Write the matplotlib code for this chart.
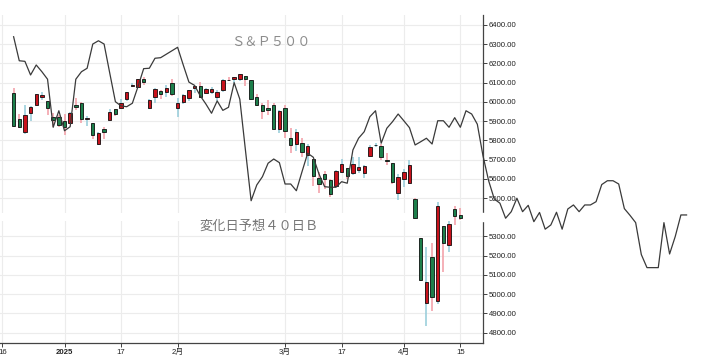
import numpy as np
import matplotlib
matplotlib.use('Agg')
import matplotlib.pyplot as plt
from matplotlib.patches import Rectangle

plt.rcParams['font.family'] = ['Liberation Sans', 'Noto Sans CJK JP', 'DejaVu Sans']

# ---------------- data ----------------
dates = ['12/18', '12/19', '12/20', '12/23', '12/24', '12/26', '12/27', '12/30', '12/31',
         '1/2', '1/3', '1/6', '1/7', '1/8', '1/10', '1/13', '1/14', '1/15', '1/16', '1/17',
         '1/21', '1/22', '1/23', '1/24', '1/27', '1/28', '1/29', '1/30', '1/31',
         '2/3', '2/4', '2/5', '2/6', '2/7', '2/10', '2/11', '2/12', '2/13', '2/14',
         '2/18', '2/19', '2/20', '2/21', '2/24', '2/25', '2/26', '2/27', '2/28',
         '3/3', '3/4', '3/5', '3/6', '3/7', '3/10', '3/11', '3/12', '3/13', '3/14',
         '3/17', '3/18', '3/19', '3/20', '3/21', '3/24', '3/25', '3/26', '3/27', '3/28',
         '3/31', '4/1', '4/2', '4/3', '4/4', '4/7', '4/8', '4/9', '4/10', '4/11', '4/14', '4/15']

opens = [6047.65, 5912.71, 5842.00, 5940.25, 5984.74, 6024.97, 6006.17, 5920.67, 5919.74,
         5903.26, 5891.07, 5982.81, 5993.26, 5910.66, 5890.66, 5782.00, 5859.00, 5905.00, 5961.00, 5969.00,
         6014.12, 6081.39, 6076.32, 6121.43, 5969.04, 6026.97, 6057.70, 6050.75, 6096.79,
         5969.65, 5998.14, 6020.45, 6072.22, 6083.13, 6046.40, 6049.32, 6025.08, 6060.59, 6115.52,
         6121.60, 6117.52, 6134.50, 6114.10, 6026.69, 5982.73, 5970.87, 5981.88, 5856.74,
         5968.33, 5811.98, 5781.43, 5785.87, 5726.01, 5705.37, 5603.65, 5624.84, 5594.45, 5563.85,
         5635.60, 5654.53, 5632.37, 5646.92, 5630.73, 5718.08, 5775.86, 5771.66, 5695.64, 5679.99,
         5527.91, 5597.53, 5580.76, 5492.74, 5292.14, 4953.79, 5193.57, 4965.28, 5353.15, 5255.56, 5441.96, 5411.99]

highs = [6070.67, 5935.52, 5982.06, 5978.25, 6040.10, 6049.75, 6006.17, 5940.79, 5929.74,
         5935.09, 5949.34, 6021.04, 6000.68, 5927.89, 5890.66, 5843.71, 5871.92, 5960.61, 5964.69, 6014.96,
         6051.51, 6100.81, 6118.73, 6128.18, 6017.17, 6074.54, 6062.83, 6086.64, 6120.91,
         6022.13, 6042.48, 6062.86, 6084.03, 6101.28, 6073.38, 6076.28, 6063.09, 6116.91, 6127.47,
         6129.63, 6147.43, 6134.50, 6114.82, 6043.65, 5992.65, 6009.82, 5993.69, 5959.40,
         5986.09, 5865.08, 5860.59, 5812.08, 5783.01, 5705.37, 5636.30, 5642.19, 5597.78, 5645.27,
         5703.52, 5654.53, 5715.33, 5711.15, 5670.84, 5775.14, 5786.95, 5783.62, 5732.28, 5679.99,
         5627.56, 5650.57, 5695.31, 5499.53, 5292.14, 5246.57, 5267.47, 5481.34, 5353.15, 5381.46, 5459.46, 5450.41]

lows = [5867.79, 5866.07, 5832.30, 5902.57, 5981.44, 6007.37, 5932.95, 5869.16, 5868.86,
        5829.53, 5888.66, 5960.01, 5890.68, 5874.78, 5809.44, 5773.31, 5805.58, 5905.00, 5927.95, 5969.00,
        6006.88, 6076.13, 6074.67, 6088.74, 5962.92, 5994.63, 6012.96, 6027.46, 6030.93,
        5923.93, 5990.87, 6007.06, 6046.83, 6019.96, 6044.84, 6042.34, 6003.00, 6051.21, 6107.62,
        6099.51, 6111.15, 6084.59, 6008.56, 5977.83, 5908.49, 5932.69, 5858.78, 5837.66,
        5810.91, 5732.59, 5742.35, 5711.64, 5666.29, 5564.02, 5528.41, 5546.09, 5504.65, 5563.85,
        5631.12, 5597.76, 5622.20, 5632.33, 5603.10, 5718.08, 5764.44, 5695.47, 5670.94, 5572.42,
        5488.73, 5558.52, 5571.48, 5390.83, 5069.90, 4835.04, 4910.42, 4948.43, 5115.27, 5220.77, 5358.02, 5386.44]

closes = [5872.16, 5867.08, 5930.85, 5974.07, 6040.04, 6037.59, 5970.84, 5906.94, 5881.63,
          5868.55, 5942.47, 5975.38, 5909.03, 5918.25, 5827.04, 5836.22, 5842.91, 5949.91, 5937.34, 5996.66,
          6049.24, 6086.37, 6118.71, 6101.24, 6012.28, 6067.70, 6039.31, 6071.17, 6040.53,
          5994.57, 6037.88, 6061.48, 6083.57, 6025.99, 6066.44, 6068.50, 6051.97, 6115.07, 6114.63,
          6129.58, 6144.15, 6117.52, 6013.13, 5983.25, 5955.25, 5956.06, 5861.57, 5954.50,
          5849.72, 5778.15, 5842.63, 5738.52, 5770.20, 5614.56, 5572.07, 5599.30, 5521.52, 5638.94,
          5675.12, 5614.66, 5675.29, 5662.89, 5667.56, 5767.57, 5776.65, 5712.20, 5693.31, 5580.94,
          5611.85, 5633.07, 5670.97, 5396.52, 5074.08, 5062.25, 4982.77, 5456.90, 5268.05, 5363.36, 5405.97, 5396.63]

# forecast line (変化日予想40日B), one value per trading day starting 12/18
forecast = [6339, 6214, 6211, 6140, 6192, 6157, 6118, 5868, 5954, 5850,
            5871, 6118, 6157, 6175, 6301, 6318, 6301, 6150, 6001, 5979,
            5975, 5993, 6080, 6173, 6175, 6227, 6230, 6248, 6266, 6284,
            6192, 6103, 6086, 6032, 5989, 5941, 6005, 5956, 5972, 6100,
            6014, 5748, 5486, 5568, 5611, 5681, 5703, 5684, 5573, 5573,
            5538, 5637, 5733, 5712, 5625, 5559, 5556, 5556, 5585, 5577,
            5750, 5811, 5845, 5923, 5954, 5785, 5863, 5897, 5937, 5902,
            5866, 5776, 5793, 5811, 5781, 5902, 5902, 5868, 5918, 5868,
            5954, 5937, 5884, 5720, 5590, 5495, 5473, 5395, 5429, 5499,
            5429, 5462, 5377, 5425, 5338, 5360, 5426, 5338, 5443, 5464,
            5429, 5464, 5464, 5481, 5570, 5590, 5590, 5573, 5445, 5410,
            5372, 5206, 5138, 5138, 5138, 5372, 5209, 5300, 5412, 5412]

xtick_pos = [0, 11, 21, 31, 50, 60, 71, 81]
xtick_labels = ['16', '2025', '17', '2月', '3月', '17', '4月', '15']
ytick_vals = [4800, 4900, 5000, 5100, 5200, 5300, 5500, 5600, 5700, 5800,
              5900, 6000, 6100, 6200, 6300, 6400]

title_main = 'Ｓ＆Ｐ５００'
title_line = '変化日予想４０日Ｂ'

# ---------------- figure ----------------
W, H = 706, 358
fig = plt.figure(figsize=(W / 100, H / 100), dpi=100)
ax_l, ax_r, ax_t, ax_b = 0.0, 482.7, 15.0, 343.0
ax = fig.add_axes([ax_l / W, 1 - ax_b / H, (ax_r - ax_l) / W, (ax_b - ax_t) / H])

first = 2  # 12/18 is the third trading day after 12/16
cx = np.arange(len(dates)) + first
o = np.array(opens); c = np.array(closes)
hi = np.array(highs); lo = np.array(lows)
up = c >= o

green = '#1d7f4b'
red = '#c8121c'
wick_up = '#9ccfdc'     # wick colour for rising (red) candles
wick_dn = '#f3a3ab'     # wick colour for falling (green) candles

ax.vlines(cx, lo, hi, colors=np.where(up, wick_up, wick_dn), linewidth=1.2, zorder=2)
bottoms = np.minimum(o, c)
heights = np.maximum(np.abs(c - o), 1.0)
ax.bar(cx, heights, bottom=bottoms, width=0.6,
       color=np.where(up, red, green), edgecolor='black', linewidth=0.55, zorder=3)

fx = np.arange(len(forecast)) + first
ax.plot(fx, forecast, color='#3a3a3a', linewidth=0.9, zorder=4, clip_on=False)

ax.set_xlim(-2.3 / 5.655, (ax_r - 2.3) / 5.655)
ax.set_ylim(4746, 6452)

ax.set_xticks(xtick_pos)
ax.set_xticklabels(xtick_labels)
ax.get_xticklabels()[1].set_fontweight('bold')
ax.yaxis.tick_right()
ax.set_yticks(ytick_vals)
ax.set_yticklabels([f'{v:.2f}' for v in ytick_vals])

ax.tick_params(axis='x', length=3, width=0.6, pad=1.5, labelsize=5.6, colors='#222222')
ax.tick_params(axis='y', length=3, width=0.6, pad=1.5, labelsize=5.6, colors='#222222')

ax.set_axisbelow(True)
ax.grid(True, color='#ececec', linewidth=0.8)
ax.axhspan(5381, 5421, color='white', zorder=1, linewidth=0)

for s in ['top', 'left']:
    ax.spines[s].set_visible(False)
for s in ['right', 'bottom']:
    ax.spines[s].set_color('#444444')
    ax.spines[s].set_linewidth(0.9)

# gap in the right axis line
fig.patches.append(Rectangle((480.5 / W, 1 - 221 / H), 6 / W, 8 / H,
                             transform=fig.transFigure, color='white', zorder=10))

fig.text(271 / W, 1 - 42 / H, title_main, ha='center', va='center', fontsize=9.5,
         color='#8c8c8c', family=['Noto Sans CJK JP'])
fig.text(258.7 / W, 1 - 226 / H, title_line, ha='center', va='center', fontsize=9.5,
         color='#777777', family=['Noto Sans CJK JP'])

fig.savefig('out.png', dpi=100, facecolor='white')
